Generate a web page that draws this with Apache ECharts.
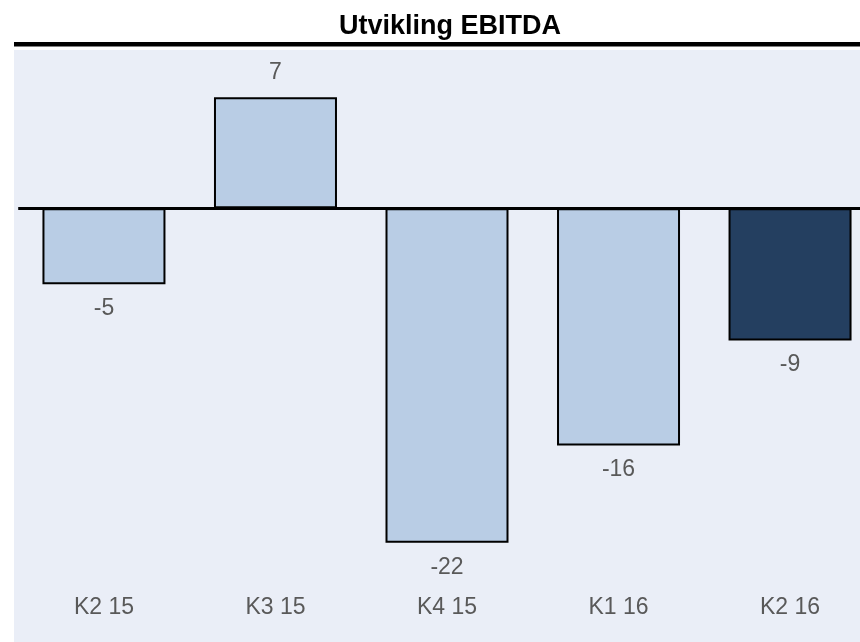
<!DOCTYPE html>
<html>
<head>
<meta charset="utf-8">
<script src="https://cdn.jsdelivr.net/npm/echarts@6/dist/echarts.min.js"></script>
<style>
  html, body { margin: 0; padding: 0; background: #fff; }
  #main { width: 860px; height: 642px; }
</style>
</head>
<body>
<div id="main"></div>
<script>
// data
const categories = ['K2 15', 'K3 15', 'K4 15', 'K1 16', 'K2 16']
const ebitda = [-5.0, 7.3, -22.0, -15.6, -8.7]
const highlightIndex = 4

const lightBlue = '#B9CDE5'
const darkBlue = '#243F60'
const textGrey = '#595959'

const chart = echarts.init(document.getElementById('main'))

chart.setOption({
  animation: false,
  backgroundColor: '#ffffff',
  title: {
    text: 'Utvikling EBITDA',
    left: 334,
    top: 8,
    textStyle: {
      fontFamily: 'Liberation Sans',
      fontWeight: 'bold',
      fontSize: 27,
      color: '#000000',
    },
  },
  graphic: [
    // plot background
    {
      type: 'rect',
      z: -10,
      shape: { x: 14, y: 50, width: 846, height: 592 },
      style: { fill: '#EAEEF7' },
    },
    // rule under the title
    {
      type: 'rect',
      z: -10,
      shape: { x: 14, y: 42, width: 846, height: 4.5 },
      style: { fill: '#000000' },
    },
  ],
  // plot area runs a bit past the right edge of the picture
  grid: {
    left: 18.2,
    right: -15.8,
    top: 56.3,
    bottom: 53.7,
    containLabel: false,
    outerBoundsMode: 'none',
  },
  xAxis: {
    type: 'category',
    data: categories,
    position: 'bottom',
    axisLine: { show: false, onZero: false },
    axisTick: { show: false },
    axisLabel: {
      margin: 8,
      fontFamily: 'Liberation Sans',
      fontSize: 23,
      color: textGrey,
    },
  },
  yAxis: {
    type: 'value',
    min: -25,
    max: 10,
    show: false,
    splitLine: { show: false },
  },
  series: [
    {
      type: 'bar',
      barWidth: 123,
      data: ebitda.map((v, i) => ({
        value: v,
        itemStyle: { color: i === highlightIndex ? darkBlue : lightBlue },
      })),
      itemStyle: {
        borderColor: '#000000',
        borderWidth: 2,
      },
      label: {
        show: true,
        position: 'outside',
        distance: 13,
        fontFamily: 'Liberation Sans',
        fontSize: 23,
        color: textGrey,
        formatter: (p) => Math.round(p.value),
      },
      markLine: {
        silent: true,
        symbol: 'none',
        label: { show: false },
        lineStyle: { color: '#000000', width: 3, type: 'solid' },
        data: [{ yAxis: 0 }],
      },
    },
  ],
})
</script>
</body>
</html>
